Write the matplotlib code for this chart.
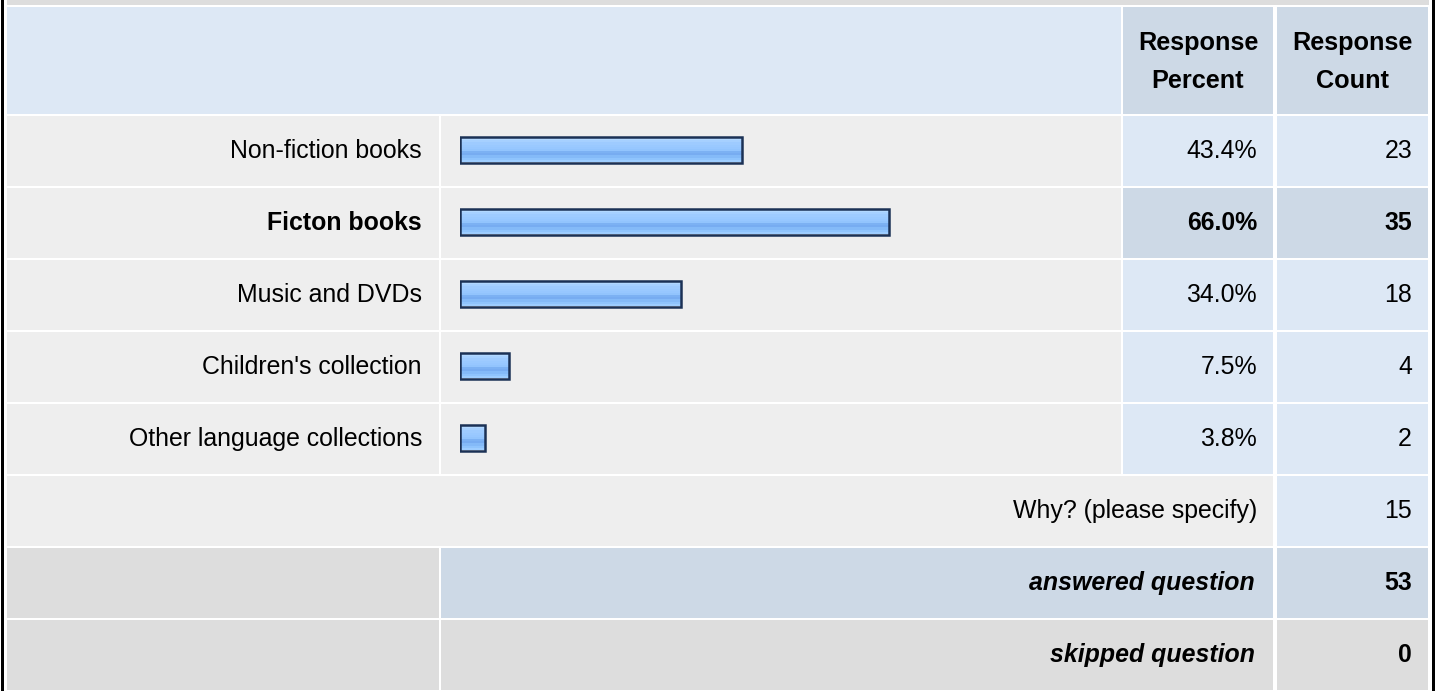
import matplotlib
matplotlib.use("Agg")
import matplotlib.pyplot as plt
import numpy as np
from matplotlib.patches import Rectangle
from matplotlib.colors import to_rgb

plt.rcParams['font.family'] = ['Liberation Sans', 'DejaVu Sans']

# survey results
categories = ["Non-fiction books", "Ficton books", "Music and DVDs",
              "Children's collection", "Other language collections"]
percents = [43.4, 66.0, 34.0, 7.5, 3.8]
counts = [23, 35, 18, 4, 2]
other_label = "Why? (please specify)"
other_count = 15
answered = 53
skipped = 0
header_cols = ["Response\nPercent", "Response\nCount"]

W, H = 1438, 691
fig = plt.figure(figsize=(W / 100, H / 100), dpi=100)
ax = fig.add_axes([0, 0, 1, 1])
ax.set_xlim(0, W)
ax.set_ylim(H, 0)
ax.axis("off")

light_blue = "#dde8f5"
dark_blue = "#cdd9e6"
light_gray = "#eeeeee"
dark_gray = "#dddddd"
fs = 17.9

# column edges (pixels)
c0 = (7, 439)
c1 = (441, 1121)
c2 = (1123, 1273)
c3 = (1277, 1428)
row_top = 116
pitch = 72
row_h = 70


def cell(x0, x1, y0, y1, color):
    ax.add_patch(Rectangle((x0, y0), x1 - x0, y1 - y0, color=color, lw=0, zorder=1))


# outer frame
cell(7, 1429, 0, 4.5, dark_gray)
ax.add_patch(Rectangle((1, -1), 3, H + 2, color="black", lw=0, zorder=3))
ax.add_patch(Rectangle((1432, -1), 3, H + 2, color="black", lw=0, zorder=3))

# header
cell(c0[0], c1[1], 7, 114, light_blue)
cell(c2[0], c2[1], 7, 114, dark_blue)
cell(c3[0], c3[1], 7, 114, dark_blue)
for (x0, x1), txt in zip([c2, c3], header_cols):
    ax.text((x0 + x1) / 2, 62, txt, ha="center", va="center", fontsize=18.2,
            fontweight="bold", linespacing=1.7, zorder=5)

best = int(np.argmax(percents))
for i, (cat, p, n) in enumerate(zip(categories, percents, counts)):
    y0 = row_top + i * pitch
    y1 = y0 + row_h
    yc = (y0 + y1) / 2
    hi = i == best
    cell(c0[0], c0[1], y0, y1, light_gray)
    cell(c1[0], c1[1], y0, y1, light_gray)
    cell(c2[0], c2[1], y0, y1, dark_blue if hi else light_blue)
    cell(c3[0], c3[1], y0, y1, dark_blue if hi else light_blue)
    w = "bold" if hi else "normal"
    ax.text(422, yc, cat, ha="right", va="center", fontsize=fs, fontweight=w, zorder=5)
    ax.text(1257, yc, f"{p:.1f}%", ha="right", va="center", fontsize=fs, fontweight=w, zorder=5)
    ax.text(1412, yc, str(n), ha="right", va="center", fontsize=fs, fontweight=w, zorder=5)

# "why" row
y0 = row_top + 5 * pitch
cell(c0[0], c2[1], y0, y0 + row_h, light_gray)
cell(c3[0], c3[1], y0, y0 + row_h, light_blue)
ax.text(1257, y0 + row_h / 2, other_label, ha="right", va="center", fontsize=fs, zorder=5)
ax.text(1412, y0 + row_h / 2, str(other_count), ha="right", va="center", fontsize=fs, zorder=5)

# summary rows
for k, (txt, val, mid) in enumerate([("answered question", answered, dark_blue),
                                     ("skipped question", skipped, dark_gray)]):
    y0 = row_top + (6 + k) * pitch
    y1 = min(y0 + row_h, H)
    cell(c0[0], c0[1], y0, y1, dark_gray)
    cell(c1[0], c2[1], y0, y1, mid)
    cell(c3[0], c3[1], y0, y1, mid)
    yc = y0 + row_h / 2
    ax.text(1255, yc, txt, ha="right", va="center", fontsize=fs,
            fontweight="bold", fontstyle="italic", zorder=5)
    ax.text(1412, yc, str(val), ha="right", va="center", fontsize=fs,
            fontweight="bold", zorder=5)

# bar chart over the bar column
bx0, bx1 = 460, 1110
by0 = row_top - 2.5
by1 = by0 + len(categories) * pitch
bax = fig.add_axes([bx0 / W, 1 - by1 / H, (bx1 - bx0) / W, (by1 - by0) / H])
bax.set_xlim(0, 100)
bax.set_ylim(len(categories) - 0.5, -0.5)
bax.axis("off")
bax.patch.set_alpha(0)

stripes = ["#c6e1ff", "#b2d8ff", "#a6d0ff", "#9ecbff", "#9ac9ff", "#97c7ff",
           "#92c4fd", "#7cb1f3", "#77acf1", "#84baf8", "#8fc4fd", "#9dcdff"]
grad = np.array([to_rgb(c) for c in stripes])[:, None, :]

bh = 26 / pitch
bars = bax.barh(range(len(categories)), percents, height=bh,
                facecolor="none", edgecolor="#1b3155", linewidth=1.8, zorder=3)
for i, b in enumerate(bars):
    im = bax.imshow(grad, extent=(0, percents[i], i + bh / 2, i - bh / 2),
                    aspect="auto", interpolation="nearest", zorder=2)
    im.set_clip_path(b)
bax.set_xlim(0, 100)
bax.set_ylim(len(categories) - 0.5, -0.5)

fig.savefig("out.png", dpi=100)
